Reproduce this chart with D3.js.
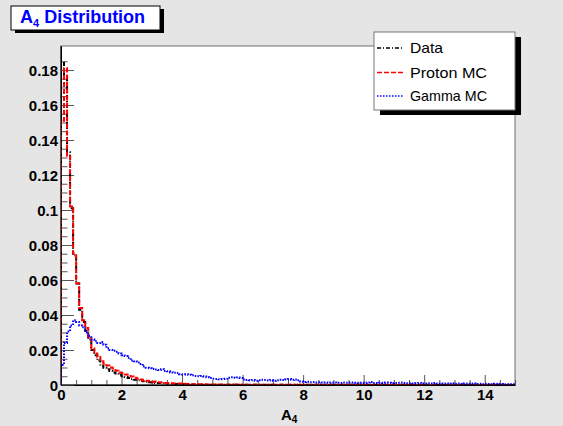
<!DOCTYPE html>
<html>
<head>
<meta charset="utf-8">
<script src="https://cdn.jsdelivr.net/npm/d3@7/dist/d3.min.js"></script>
<style>
  html, body { margin: 0; padding: 0; background: #e5e5e5; }
  svg { display: block; }
  text { font-family: "Liberation Sans", Arial, Helvetica, sans-serif; }
</style>
</head>
<body>
<svg id="chart" width="563" height="426"></svg>
<script>
// ---------------- data ----------------
const xMin = 0, xMax = 15, binWidth = 0.1;
const seriesNames = ["Data", "Proton MC", "Gamma MC"];

const dataValues = [
  0.184,0.176,0.133,0.101,0.074,0.058,0.043,0.036,0.031,0.026,
  0.020,0.017,0.014,0.011,0.0098,0.0090,0.0080,0.0072,0.0066,0.0058,
  0.0050,0.0046,0.0040,0.0035,0.0030,0.0027,0.0024,0.0021,0.0018,0.0016,
  0.0014,0.0012,0.0011,0.0010,0.0009,0.0008,0.0007,0.0006,0.0006,0.0005,
  0.0005,0.0004,0.0004,0.0003,0.0003,0.0003,0.0002,0.0002,0.0002,0.0002,
  0.0002,0.0001,0.0002,0.0001,0.0001,0.0002,0.0001,0.0001,0.0001,0.0001,
  0.0001,0.0001,0.0002,0.0001,0.0001,0.0001,0.0000,0.0001,0.0001,0.0001,
  0.0001,0.0000,0.0001,0.0001,0.0001,0.0000,0.0001,0.0001,0.0000,0.0001,
  0.0001,0.0000,0.0001,0.0000,0.0001,0.0001,0.0000,0.0001,0.0000,0.0001,
  0.0000,0.0001,0.0000,0.0001,0.0000,0.0001,0.0000,0.0000,0.0001,0.0000,
  0.0001,0.0000,0.0000,0.0001,0.0000,0.0000,0.0001,0.0000,0.0000,0.0001,
  0.0000,0.0000,0.0001,0.0000,0.0000,0.0000,0.0001,0.0000,0.0000,0.0000,
  0.0001,0.0000,0.0000,0.0000,0.0000,0.0001,0.0000,0.0000,0.0000,0.0000,
  0.0000,0.0000,0.0001,0.0000,0.0000,0.0000,0.0000,0.0000,0.0000,0.0000,
  0.0000,0.0000,0.0000,0.0000,0.0001,0.0000,0.0000,0.0000,0.0000,0.0000
];

const protonValues = [
  0.151,0.181,0.131,0.102,0.075,0.058,0.044,0.037,0.0326,0.0276,
  0.021,0.018,0.016,0.0135,0.0122,0.0112,0.0100,0.0094,0.0082,0.0072,
  0.0068,0.0060,0.0052,0.0048,0.0042,0.0036,0.0032,0.0026,0.0024,0.0021,
  0.0019,0.0020,0.0016,0.0014,0.0012,0.0011,0.0010,0.0009,0.0008,0.0008,
  0.0007,0.0006,0.0006,0.0005,0.0005,0.0004,0.0004,0.0004,0.0003,0.0003,
  0.0003,0.0003,0.0002,0.0003,0.0002,0.0002,0.0002,0.0003,0.0002,0.0002,
  0.0002,0.0001,0.0002,0.0002,0.0001,0.0002,0.0001,0.0001,0.0002,0.0001,
  0.0001,0.0001,0.0002,0.0001,0.0001,0.0001,0.0001,0.0001,0.0001,0.0002,
  0.0001,0.0001,0.0001,0.0001,0.0001,0.0001,0.0001,0.0001,0.0001,0.0001,
  0.0001,0.0001,0.0001,0.0001,0.0001,0.0001,0.0001,0.0001,0.0001,0.0001,
  0.0001,0.0001,0.0001,0.0001,0.0001,0.0001,0.0001,0.0001,0.0001,0.0001,
  0.0001,0.0001,0.0001,0.0001,0.0001,0.0000,0.0001,0.0001,0.0001,0.0001,
  0.0001,0.0000,0.0001,0.0001,0.0001,0.0001,0.0000,0.0001,0.0001,0.0001,
  0.0001,0.0001,0.0000,0.0001,0.0001,0.0000,0.0001,0.0001,0.0001,0.0000,
  0.0001,0.0001,0.0000,0.0001,0.0001,0.0001,0.0000,0.0001,0.0001,0.0001
];

const gammaValues = [
  0.0114,0.024,0.0305,0.034,0.037,0.036,0.034,0.033,0.030,0.028,
  0.026,0.025,0.024,0.0245,0.023,0.021,0.020,0.0195,0.019,0.018,
  0.017,0.0165,0.0155,0.014,0.0135,0.0128,0.012,0.0105,0.0098,0.0095,
  0.0092,0.0088,0.0085,0.0090,0.0080,0.0078,0.0072,0.0070,0.0068,0.0062,
  0.0060,0.0061,0.0058,0.0055,0.0052,0.0050,0.0051,0.0048,0.0044,0.0040,
  0.0036,0.0035,0.0033,0.0034,0.0036,0.0042,0.0044,0.0041,0.0043,0.0040,
  0.0032,0.0028,0.0027,0.0029,0.0025,0.0027,0.0030,0.0028,0.0026,0.0029,
  0.0025,0.0027,0.0030,0.0028,0.0031,0.0034,0.0030,0.0032,0.0027,0.0020,
  0.0017,0.0018,0.0016,0.0017,0.0015,0.0016,0.0014,0.0015,0.0013,0.0014,
  0.0015,0.0013,0.0012,0.0014,0.0013,0.0015,0.0014,0.0013,0.0012,0.0013,
  0.0012,0.0015,0.0017,0.0012,0.0011,0.0013,0.0012,0.0014,0.0013,0.0011,
  0.0012,0.0013,0.0014,0.0012,0.0010,0.0011,0.0009,0.0010,0.0012,0.0008,
  0.0009,0.0010,0.0008,0.0011,0.0009,0.0008,0.0007,0.0009,0.0008,0.0010,
  0.0007,0.0008,0.0006,0.0009,0.0007,0.0006,0.0008,0.0006,0.0007,0.0005,
  0.0007,0.0006,0.0005,0.0007,0.0005,0.0006,0.0004,0.0005,0.0004,0.0005
];

const xTickValues = [0, 2, 4, 6, 8, 10, 12, 14];
const xTickLabels = ["0", "2", "4", "6", "8", "10", "12", "14"];
const yTickValues = [0, 0.02, 0.04, 0.06, 0.08, 0.1, 0.12, 0.14, 0.16, 0.18];
const yTickLabels = ["0", "0.02", "0.04", "0.06", "0.08", "0.1", "0.12", "0.14", "0.16", "0.18"];
const yMax = 0.1937;

// ---------------- layout ----------------
const W = 563, H = 426;
const plot = { left: 61, right: 515, top: 46, bottom: 385 };

const svg = d3.select("#chart");
svg.append("rect").attr("width", W).attr("height", H).attr("fill", "#e5e5e5");

const x = d3.scaleLinear().domain([xMin, xMax]).range([plot.left, plot.right]);
const y = d3.scaleLinear().domain([0, yMax]).range([plot.bottom, plot.top]);

// frame
svg.append("rect")
  .attr("x", plot.left).attr("y", plot.top)
  .attr("width", plot.right - plot.left).attr("height", plot.bottom - plot.top)
  .attr("fill", "#ffffff").attr("stroke", "#6e6e6e").attr("stroke-width", 1);

svg.append("defs").append("clipPath").attr("id", "clip")
  .append("rect")
  .attr("x", plot.left).attr("y", plot.top - 1)
  .attr("width", plot.right - plot.left).attr("height", plot.bottom - plot.top + 1);

// minor ticks
const xMinor = d3.range(0, 15.001, 0.5).filter(v => Math.abs(v / 2 - Math.round(v / 2)) > 1e-6);
const yMinor = d3.range(0, 0.19, 0.005).filter(v => Math.abs(v / 0.02 - Math.round(v / 0.02)) > 1e-6);

const tickColor = "#555";

const gxMinor = svg.append("g").attr("transform", `translate(0,${plot.bottom})`)
  .call(d3.axisBottom(x).tickValues(xMinor).tickSizeInner(-5).tickSizeOuter(0).tickFormat(""));
const gyMinor = svg.append("g").attr("transform", `translate(${plot.left},0)`)
  .call(d3.axisLeft(y).tickValues(yMinor).tickSizeInner(-6.5).tickSizeOuter(0).tickFormat(""));
[gxMinor, gyMinor].forEach(g => { g.select(".domain").remove(); g.selectAll("line").attr("stroke", tickColor); });

const gx = svg.append("g").attr("transform", `translate(0,${plot.bottom})`)
  .call(d3.axisBottom(x).tickValues(xTickValues).tickSizeInner(-10).tickSizeOuter(0)
    .tickPadding(4).tickFormat((d, i) => xTickLabels[i]));
const gy = svg.append("g").attr("transform", `translate(${plot.left},0)`)
  .call(d3.axisLeft(y).tickValues(yTickValues).tickSizeInner(-13).tickSizeOuter(0)
    .tickPadding(3).tickFormat((d, i) => yTickLabels[i]));
[gx, gy].forEach(g => {
  g.select(".domain").attr("stroke", "#000");
  g.selectAll(".tick line").attr("stroke", tickColor);
  g.selectAll("text").attr("font-size", 15).attr("font-weight", "bold")
    .attr("fill", "#000").attr("font-family", "'Liberation Sans', Arial, sans-serif");
});
gx.selectAll("text").attr("dy", null).attr("y", 15);
gy.selectAll("text").attr("dy", "0.36em");

// histograms
const binsOf = vals => {
  const pts = [[xMin, 0]];
  vals.forEach((v, i) => {
    const x0 = xMin + i * binWidth, x1 = x0 + binWidth;
    pts.push([x0, v]); pts.push([x1, v]);
  });
  pts.push([xMax, 0]);
  return pts;
};
const line = d3.line().x(d => x(d[0])).y(d => y(d[1]));

const series = [
  { name: seriesNames[0], values: dataValues, color: "#000000", dash: "4,2,1,2" },
  { name: seriesNames[1], values: protonValues, color: "#ff0000", dash: "5,2" },
  { name: seriesNames[2], values: gammaValues, color: "#0000ff", dash: "1.5,1.5" }
];

const gHist = svg.append("g").attr("clip-path", "url(#clip)");
series.forEach(s => {
  gHist.append("path")
    .attr("d", line(binsOf(s.values)))
    .attr("fill", "none")
    .attr("stroke", s.color)
    .attr("stroke-width", 2)
    .attr("stroke-dasharray", s.dash);
});

// redraw axis lines on top
svg.append("line").attr("x1", plot.left).attr("x2", plot.right)
  .attr("y1", plot.bottom).attr("y2", plot.bottom).attr("stroke", "#000");
svg.append("line").attr("x1", plot.left).attr("x2", plot.left)
  .attr("y1", plot.top).attr("y2", plot.bottom).attr("stroke", "#000");

// x axis title
const xt = svg.append("text").attr("x", 281).attr("y", 420)
  .attr("font-size", 15).attr("font-weight", "bold").attr("fill", "#000");
xt.append("tspan").text("A");
xt.append("tspan").attr("font-size", 10).attr("dy", 3).text("4");

// title box
const tb = { x: 11, y: 6, w: 149, h: 24 };
svg.append("rect").attr("x", tb.x + 4).attr("y", tb.y + 3).attr("width", tb.w).attr("height", tb.h).attr("fill", "#000");
svg.append("rect").attr("x", tb.x).attr("y", tb.y).attr("width", tb.w).attr("height", tb.h)
  .attr("fill", "#fff").attr("stroke", "#000").attr("stroke-width", 1);
const tt = svg.append("text").attr("x", 20).attr("y", 23)
  .attr("font-size", 18).attr("font-weight", "bold").attr("fill", "#0000ff");
tt.append("tspan").text("A");
tt.append("tspan").attr("font-size", 11).attr("dy", 4).text("4");
tt.append("tspan").attr("dy", -4).text(" Distribution");

// legend
const lg = { x: 374, y: 32, w: 141, h: 78 };
svg.append("rect").attr("x", lg.x + 6).attr("y", lg.y + 5).attr("width", lg.w).attr("height", lg.h).attr("fill", "#000");
svg.append("rect").attr("x", lg.x).attr("y", lg.y).attr("width", lg.w).attr("height", lg.h)
  .attr("fill", "#fff").attr("stroke", "#777").attr("stroke-width", 1);
const legendRowY = [48, 72.5, 96];
const legendTextLen = [33, 77, 77];
series.forEach((s, i) => {
  svg.append("line").attr("x1", 377).attr("x2", 403)
    .attr("y1", legendRowY[i]).attr("y2", legendRowY[i])
    .attr("stroke", s.color).attr("stroke-width", 1.5).attr("stroke-dasharray", s.dash);
  svg.append("text").attr("x", 410).attr("y", legendRowY[i] + 5)
    .attr("font-size", 14.5).attr("fill", "#000")
    .attr("textLength", legendTextLen[i]).attr("lengthAdjust", "spacingAndGlyphs")
    .text(s.name);
});
</script>
</body>
</html>
